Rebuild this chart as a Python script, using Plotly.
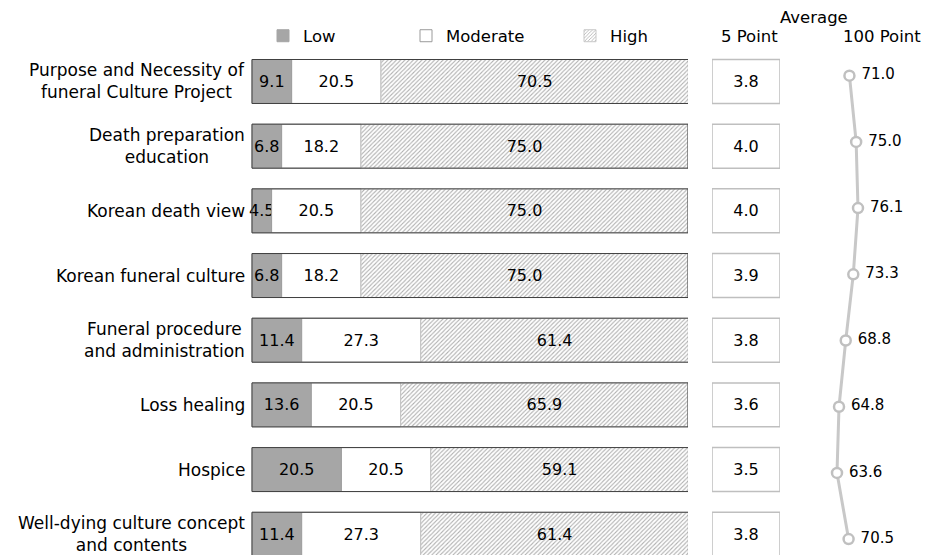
import plotly.graph_objects as go

categories = [
    "Purpose and Necessity of<br>funeral Culture Project",
    "Death preparation<br>education",
    "Korean death view",
    "Korean funeral culture",
    "Funeral procedure<br>and administration",
    "Loss healing",
    "Hospice",
    "Well-dying culture concept<br>and contents",
]
low = [9.1, 6.8, 4.5, 6.8, 11.4, 13.6, 20.5, 11.4]
moderate = [20.5, 18.2, 20.5, 18.2, 27.3, 20.5, 20.5, 27.3]
high = [70.5, 75.0, 75.0, 75.0, 61.4, 65.9, 59.1, 61.4]
avg5 = [3.8, 4.0, 4.0, 3.9, 3.8, 3.6, 3.5, 3.8]
avg100 = [71.0, 75.0, 76.1, 73.3, 68.8, 64.8, 63.6, 70.5]

FONT = "DejaVu Sans"
W, H = 927, 555
idx = list(range(len(categories)))
BW = 0.68

base_mod = [a for a in low]
base_high = [a + b for a, b in zip(low, moderate)]
total = [a + b + c for a, b, c in zip(low, moderate, high)]

bar_text = dict(textposition="inside", insidetextanchor="middle",
                constraintext="none", textangle=0,
                textfont=dict(size=16, color="black", family=FONT))

fig = go.Figure()

fig.add_trace(go.Bar(
    y=idx, x=low, base=[0] * len(low), orientation="h", width=BW,
    name="Low", legend="legend",
    marker=dict(color="#a6a6a6", line=dict(color="#a6a6a6", width=1)),
    text=[f"{v:.1f}" for v in low], **bar_text,
))
fig.add_trace(go.Bar(
    y=idx, x=moderate, base=base_mod, orientation="h", width=BW,
    name="Moderate", legend="legend2",
    marker=dict(color="white", line=dict(color="#9a9a9a", width=1)),
    text=[f"{v:.1f}" for v in moderate], **bar_text,
))
fig.add_trace(go.Bar(
    y=idx, x=high, base=base_high, orientation="h", width=BW,
    name="High", legend="legend3",
    marker=dict(color="white", line=dict(color="#c8c8c8", width=1),
                pattern=dict(shape="/", fgcolor="#606060", bgcolor="white",
                             size=3, solidity=0.35)),
    text=[f"{v:.1f}" for v in high], **bar_text,
))
# outline of full bar
fig.add_trace(go.Bar(
    y=idx, x=total, base=[0] * len(total), orientation="h", width=BW,
    showlegend=False, hoverinfo="skip",
    marker=dict(color="rgba(0,0,0,0)", line=dict(color="#404040", width=1)),
))

# 5-point boxes
fig.add_trace(go.Bar(
    y=idx, x=[1] * len(avg5), base=[0] * len(avg5), orientation="h", width=BW,
    xaxis="x2", yaxis="y", showlegend=False,
    marker=dict(color="white", line=dict(color="#bfbfbf", width=1.5)),
    text=[f"{v:.1f}" for v in avg5], **bar_text,
))

# 100-point line
fig.add_trace(go.Scatter(
    x=avg100, y=idx, xaxis="x3", yaxis="y2", mode="lines+markers+text",
    showlegend=False,
    line=dict(color="#c8c8c8", width=3),
    marker=dict(symbol="circle", size=10, color="white",
                line=dict(color="#c0c0c0", width=2.5)),
    text=[f" {v:.1f}" for v in avg100], textposition="middle right",
    textfont=dict(size=15, color="black", family=FONT),
))

# category labels
for i, c in enumerate(categories):
    fig.add_annotation(
        x=252 / W, xref="paper", y=i, yref="y", text=c, showarrow=False,
        xanchor="right", yanchor="middle", align="center", xshift=-5,
        font=dict(size=17, color="black", family=FONT),
    )

# headers
for txt, xc, yc in [("Average", 814, 17), ("5 Point", 749, 37), ("100 Point", 882, 37)]:
    fig.add_annotation(
        x=xc / W, y=1 - yc / H, xref="paper", yref="paper", text=txt,
        showarrow=False, xanchor="center", yanchor="middle",
        font=dict(size=16.5, color="black", family=FONT),
    )

legend_common = dict(orientation="h", yanchor="middle", xanchor="left",
                     bgcolor="rgba(0,0,0,0)", borderwidth=0,
                     font=dict(size=16.5, color="black", family=FONT))

fig.update_layout(
    width=W, height=H,
    margin=dict(l=0, r=0, t=0, b=0),
    paper_bgcolor="white", plot_bgcolor="rgba(0,0,0,0)",
    barmode="overlay",
    xaxis=dict(domain=[240 / W, 688 / W], range=[-2.752, 100], visible=False),
    yaxis=dict(domain=[0, 1], range=[7.321, -1.260], visible=False),
    xaxis2=dict(domain=[712 / W, 780 / W], range=[0, 1], visible=False, anchor="y"),
    xaxis3=dict(domain=[800 / W, 1], range=[41.58, 117.17], visible=False, anchor="y2"),
    yaxis2=dict(overlaying="y", range=[7.240, -1.1435], visible=False, anchor="x3"),
    legend=dict(x=(277 - 14) / W, y=1 - 36 / H, **legend_common),
    legend2=dict(x=(420 - 14) / W, y=1 - 36 / H, **legend_common),
    legend3=dict(x=(584 - 14) / W, y=1 - 36 / H, **legend_common),
    showlegend=True,
)

fig.write_html("out.html")
